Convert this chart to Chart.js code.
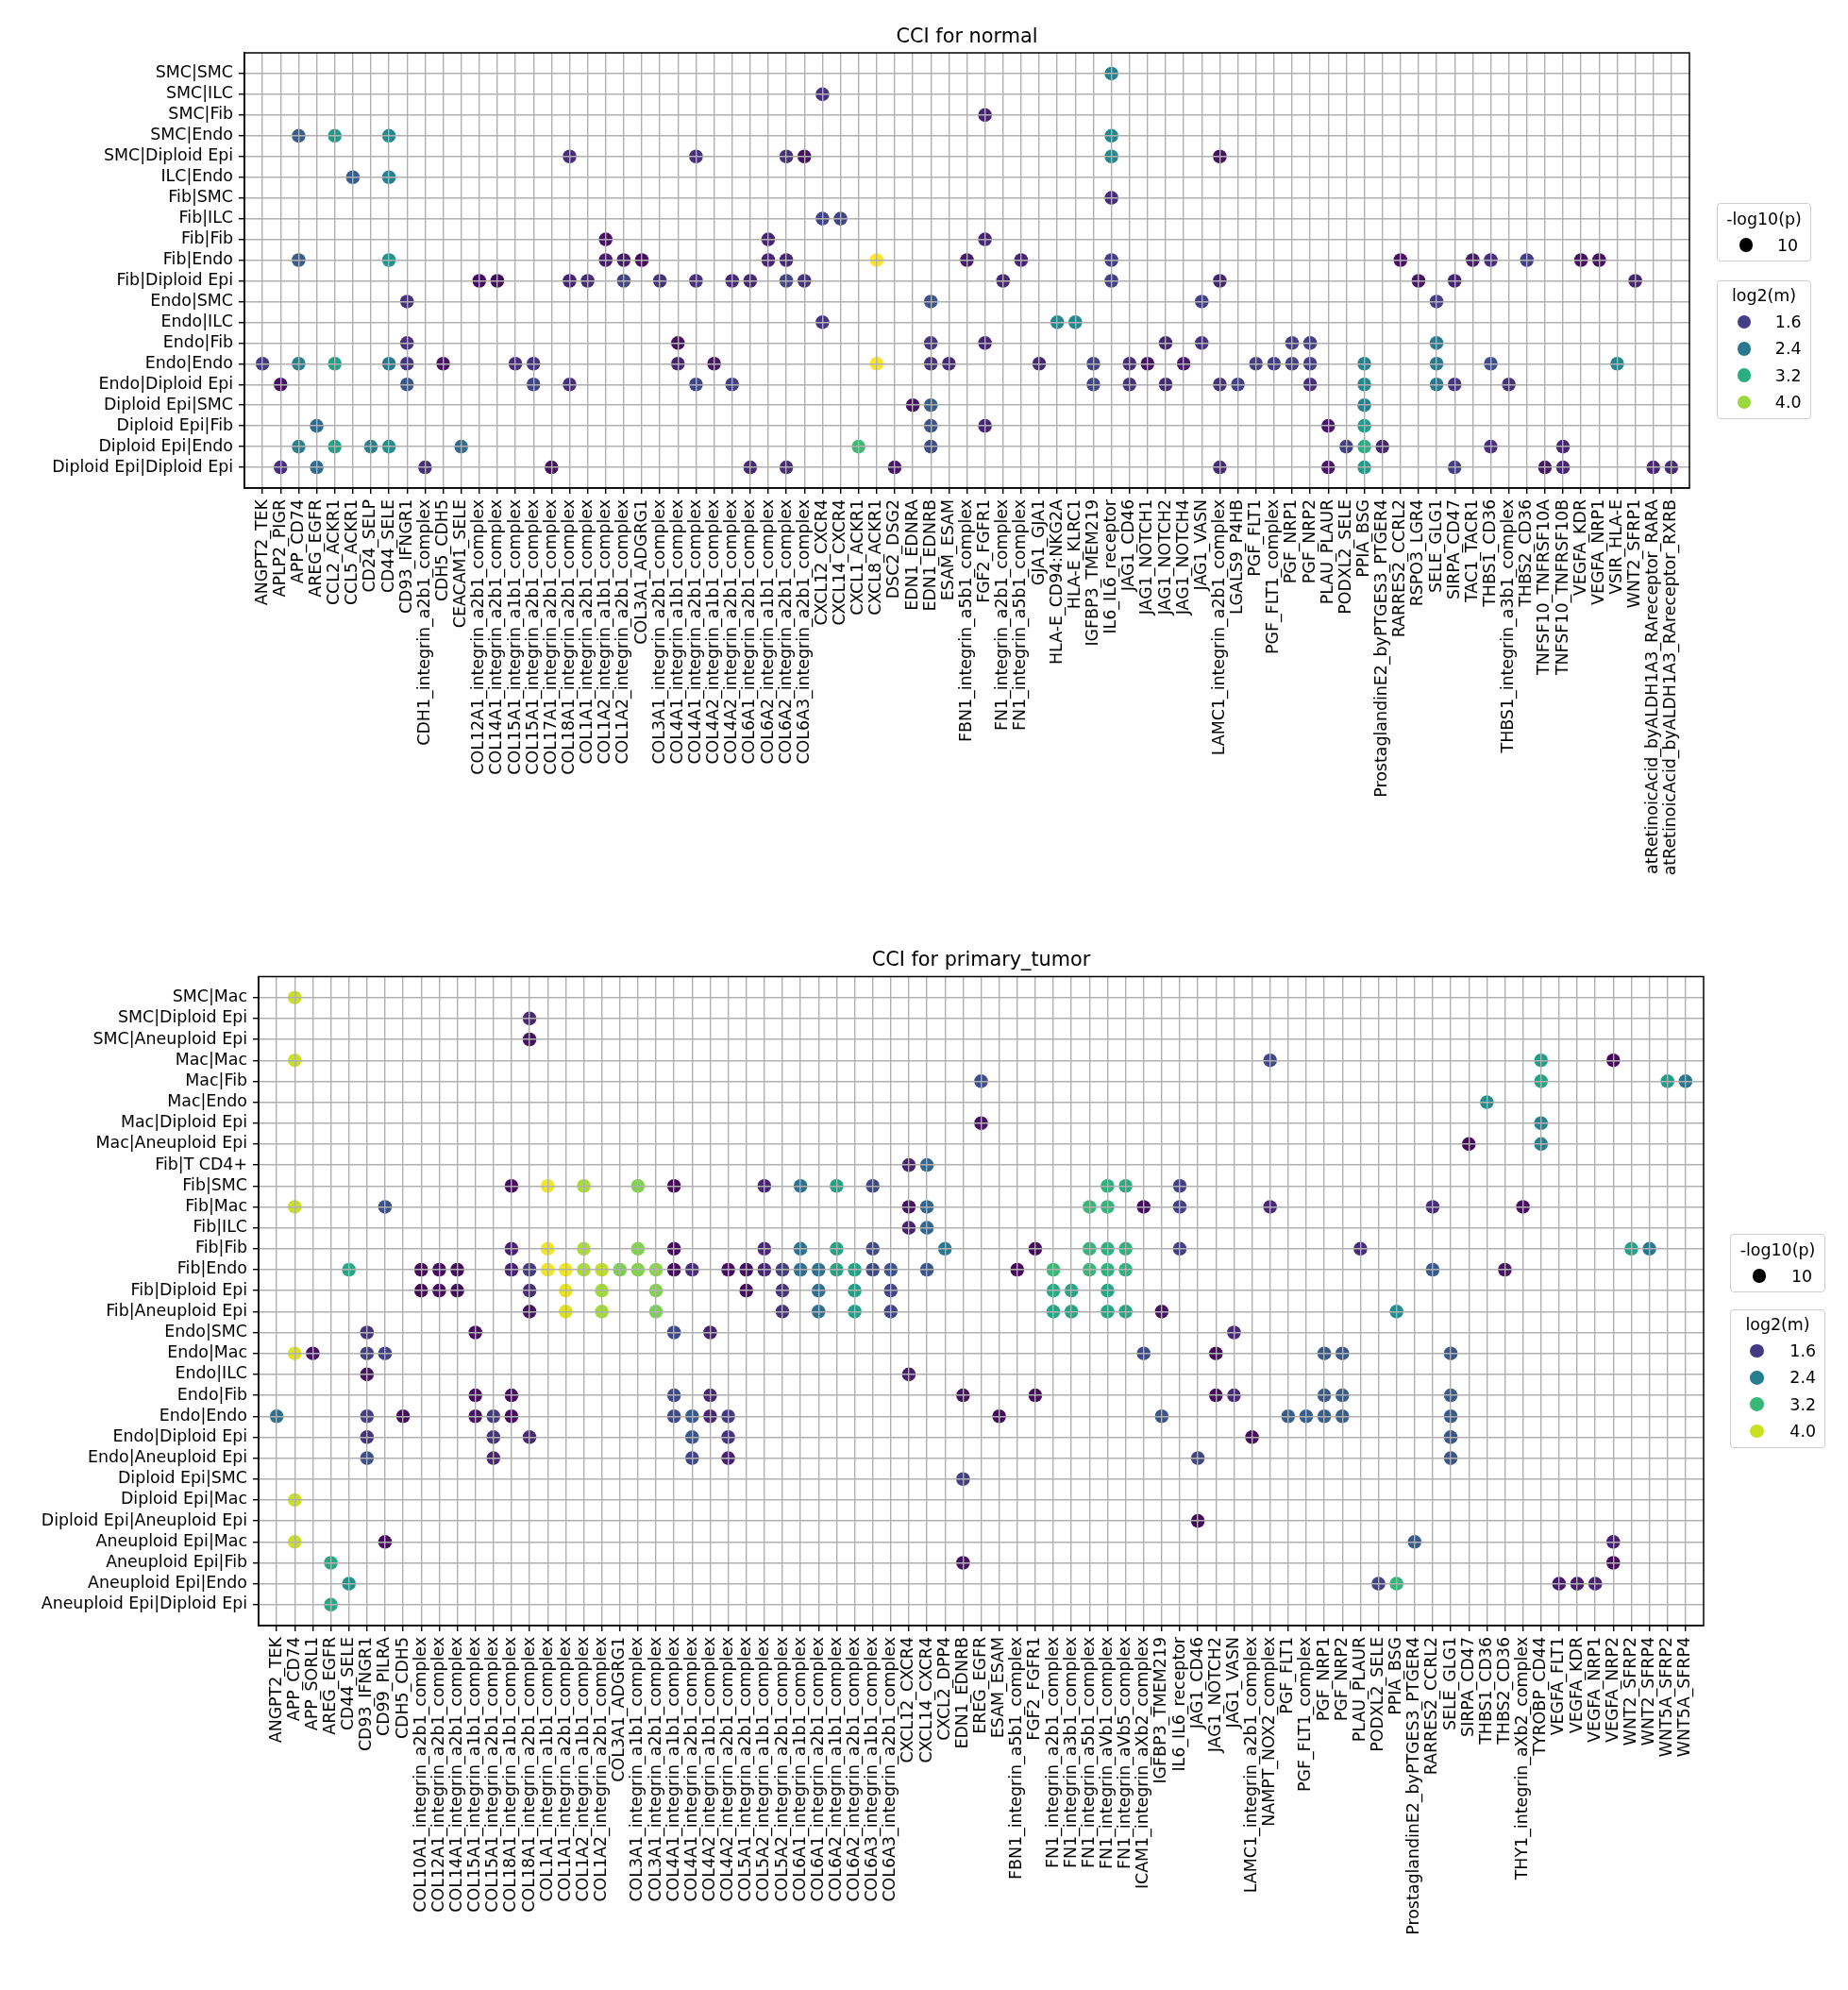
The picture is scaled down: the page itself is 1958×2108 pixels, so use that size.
<!DOCTYPE html>
<html>
<head>
<meta charset="utf-8">
<script src="https://cdn.jsdelivr.net/npm/chart.js@4.4.1/dist/chart.umd.min.js"></script>
<style>
  body { margin: 0; background: #fff; width: 1958px; height: 2108px; position: relative; overflow: hidden; font-family: "DejaVu Sans", sans-serif; }
  canvas { position: absolute; left: 0; }
  .lg { position: absolute; border: 1px solid #cccccc; border-radius: 4px; background: rgba(255,255,255,0.8); box-sizing: border-box; }
  .lt { position: absolute; font-size: 17.4px; line-height: 20px; white-space: nowrap; color: #000; }
  .dot { position: absolute; border-radius: 50%; width: 14.6px; height: 14.6px; }
</style>
</head>
<body>
<canvas id="normal" width="1958" height="990" style="top:0px"></canvas>
<canvas id="tumor" width="1958" height="1118" style="top:990px"></canvas>
<script>
// ------------- CCI for normal ------------- //
let normalRows = ["SMC|SMC", "SMC|ILC", "SMC|Fib", "SMC|Endo", "SMC|Diploid Epi", "ILC|Endo",
  "Fib|SMC", "Fib|ILC", "Fib|Fib", "Fib|Endo", "Fib|Diploid Epi", "Endo|SMC", "Endo|ILC",
  "Endo|Fib", "Endo|Endo", "Endo|Diploid Epi", "Diploid Epi|SMC", "Diploid Epi|Fib",
  "Diploid Epi|Endo", "Diploid Epi|Diploid Epi"];

let normalPairs = ["ANGPT2_TEK", "APLP2_PIGR", "APP_CD74", "AREG_EGFR", "CCL2_ACKR1", "CCL5_ACKR1",
  "CD24_SELP", "CD44_SELE", "CD93_IFNGR1", "CDH1_integrin_a2b1_complex", "CDH5_CDH5", "CEACAM1_SELE",
  "COL12A1_integrin_a2b1_complex", "COL14A1_integrin_a2b1_complex", "COL15A1_integrin_a1b1_complex",
  "COL15A1_integrin_a2b1_complex", "COL17A1_integrin_a2b1_complex", "COL18A1_integrin_a2b1_complex",
  "COL1A1_integrin_a2b1_complex", "COL1A2_integrin_a1b1_complex", "COL1A2_integrin_a2b1_complex",
  "COL3A1_ADGRG1", "COL3A1_integrin_a2b1_complex", "COL4A1_integrin_a1b1_complex",
  "COL4A1_integrin_a2b1_complex", "COL4A2_integrin_a1b1_complex", "COL4A2_integrin_a2b1_complex",
  "COL6A1_integrin_a2b1_complex", "COL6A2_integrin_a1b1_complex", "COL6A2_integrin_a2b1_complex",
  "COL6A3_integrin_a2b1_complex", "CXCL12_CXCR4", "CXCL14_CXCR4", "CXCL1_ACKR1", "CXCL8_ACKR1",
  "DSC2_DSG2", "EDN1_EDNRA", "EDN1_EDNRB", "ESAM_ESAM", "FBN1_integrin_a5b1_complex", "FGF2_FGFR1",
  "FN1_integrin_a2b1_complex", "FN1_integrin_a5b1_complex", "GJA1_GJA1", "HLA-E_CD94:NKG2A",
  "HLA-E_KLRC1", "IGFBP3_TMEM219", "IL6_IL6_receptor", "JAG1_CD46", "JAG1_NOTCH1", "JAG1_NOTCH2",
  "JAG1_NOTCH4", "JAG1_VASN", "LAMC1_integrin_a2b1_complex", "LGALS9_P4HB", "PGF_FLT1",
  "PGF_FLT1_complex", "PGF_NRP1", "PGF_NRP2", "PLAU_PLAUR", "PODXL2_SELE", "PPIA_BSG",
  "ProstaglandinE2_byPTGES3_PTGER4", "RARRES2_CCRL2", "RSPO3_LGR4", "SELE_GLG1", "SIRPA_CD47",
  "TAC1_TACR1", "THBS1_CD36", "THBS1_integrin_a3b1_complex", "THBS2_CD36", "TNFSF10_TNFRSF10A",
  "TNFSF10_TNFRSF10B", "VEGFA_KDR", "VEGFA_NRP1", "VSIR_HLA-E", "WNT2_SFRP1",
  "atRetinoicAcid_byALDH1A3_RAreceptor_RARA", "atRetinoicAcid_byALDH1A3_RAreceptor_RXRB"];

// [row, pair, log2(m)]
let normalDots = [
  [0,47,2.5],
  [1,31,1.45],
  [2,40,1.3],
  [3,2,2.0],[3,4,2.9],[3,7,2.6],[3,47,2.6],
  [4,17,1.4],[4,24,1.45],[4,29,1.45],[4,30,1.1],[4,47,2.6],[4,53,1.1],
  [5,5,2.0],[5,7,2.5],
  [6,47,1.4],
  [7,31,1.65],[7,32,1.65],
  [8,19,1.1],[8,28,1.3],[8,40,1.3],
  [9,2,2.0],[9,7,2.8],[9,19,1.2],[9,20,1.2],[9,21,1.05],[9,28,1.3],[9,29,1.35],[9,34,4.55],[9,39,1.2],
  [9,42,1.3],[9,47,1.6],[9,63,1.1],[9,67,1.2],[9,68,1.4],[9,70,1.6],[9,73,1.1],[9,74,1.1],
  [10,12,1.05],[10,13,1.05],[10,17,1.3],[10,18,1.4],[10,20,1.7],[10,22,1.45],[10,24,1.45],[10,26,1.35],
  [10,27,1.35],[10,29,1.7],[10,30,1.5],[10,41,1.35],[10,47,1.6],[10,53,1.3],[10,64,1.15],[10,66,1.3],[10,76,1.3],
  [11,8,1.45],[11,37,1.85],[11,52,1.6],[11,65,1.6],
  [12,31,1.5],[12,44,2.6],[12,45,2.6],
  [13,8,1.45],[13,23,1.1],[13,37,1.5],[13,40,1.3],[13,50,1.3],[13,52,1.45],[13,57,1.6],[13,58,1.6],[13,65,2.4],
  [14,0,1.55],[14,2,2.5],[14,4,3.0],[14,7,2.4],[14,8,1.5],[14,10,1.1],[14,14,1.4],[14,15,1.5],[14,23,1.3],
  [14,25,1.15],[14,34,4.55],[14,37,1.45],[14,38,1.35],[14,43,1.35],[14,46,1.65],[14,48,1.4],[14,49,1.1],
  [14,51,1.2],[14,55,1.6],[14,56,1.6],[14,57,1.6],[14,58,1.6],[14,61,2.5],[14,65,2.4],[14,68,1.8],[14,75,2.6],
  [15,1,1.1],[15,8,1.9],[15,15,1.7],[15,17,1.4],[15,24,1.7],[15,26,1.6],[15,46,1.7],[15,48,1.45],[15,50,1.35],
  [15,53,1.45],[15,54,1.65],[15,58,1.4],[15,61,2.6],[15,65,2.4],[15,66,1.5],[15,69,1.45],
  [16,36,1.1],[16,37,2.0],[16,61,2.5],
  [17,3,2.2],[17,37,1.85],[17,40,1.3],[17,59,1.15],[17,61,2.9],
  [18,2,2.5],[18,4,3.0],[18,6,2.5],[18,7,2.7],[18,11,2.2],[18,33,3.4],[18,37,1.75],[18,60,1.6],[18,61,3.2],
  [18,62,1.3],[18,68,1.4],[18,72,1.3],
  [19,1,1.4],[19,3,2.2],[19,9,1.4],[19,16,1.1],[19,27,1.35],[19,29,1.4],[19,35,1.15],[19,53,1.35],[19,59,1.15],
  [19,61,2.9],[19,66,1.6],[19,71,1.15],[19,72,1.3],[19,77,1.3],[19,78,1.35]
];

// ------------- CCI for primary_tumor ------------- //
let tumorRows = ["SMC|Mac", "SMC|Diploid Epi", "SMC|Aneuploid Epi", "Mac|Mac", "Mac|Fib", "Mac|Endo",
  "Mac|Diploid Epi", "Mac|Aneuploid Epi", "Fib|T CD4+", "Fib|SMC", "Fib|Mac", "Fib|ILC", "Fib|Fib",
  "Fib|Endo", "Fib|Diploid Epi", "Fib|Aneuploid Epi", "Endo|SMC", "Endo|Mac", "Endo|ILC", "Endo|Fib",
  "Endo|Endo", "Endo|Diploid Epi", "Endo|Aneuploid Epi", "Diploid Epi|SMC", "Diploid Epi|Mac",
  "Diploid Epi|Aneuploid Epi", "Aneuploid Epi|Mac", "Aneuploid Epi|Fib", "Aneuploid Epi|Endo",
  "Aneuploid Epi|Diploid Epi"];

let tumorPairs = ["ANGPT2_TEK", "APP_CD74", "APP_SORL1", "AREG_EGFR", "CD44_SELE", "CD93_IFNGR1",
  "CD99_PILRA", "CDH5_CDH5", "COL10A1_integrin_a2b1_complex", "COL12A1_integrin_a2b1_complex",
  "COL14A1_integrin_a2b1_complex", "COL15A1_integrin_a1b1_complex", "COL15A1_integrin_a2b1_complex",
  "COL18A1_integrin_a1b1_complex", "COL18A1_integrin_a2b1_complex", "COL1A1_integrin_a1b1_complex",
  "COL1A1_integrin_a2b1_complex", "COL1A2_integrin_a1b1_complex", "COL1A2_integrin_a2b1_complex",
  "COL3A1_ADGRG1", "COL3A1_integrin_a1b1_complex", "COL3A1_integrin_a2b1_complex",
  "COL4A1_integrin_a1b1_complex", "COL4A1_integrin_a2b1_complex", "COL4A2_integrin_a1b1_complex",
  "COL4A2_integrin_a2b1_complex", "COL5A1_integrin_a2b1_complex", "COL5A2_integrin_a1b1_complex",
  "COL5A2_integrin_a2b1_complex", "COL6A1_integrin_a1b1_complex", "COL6A1_integrin_a2b1_complex",
  "COL6A2_integrin_a1b1_complex", "COL6A2_integrin_a2b1_complex", "COL6A3_integrin_a1b1_complex",
  "COL6A3_integrin_a2b1_complex", "CXCL12_CXCR4", "CXCL14_CXCR4", "CXCL2_DPP4", "EDN1_EDNRB",
  "EREG_EGFR", "ESAM_ESAM", "FBN1_integrin_a5b1_complex", "FGF2_FGFR1", "FN1_integrin_a2b1_complex",
  "FN1_integrin_a3b1_complex", "FN1_integrin_a5b1_complex", "FN1_integrin_aVb1_complex",
  "FN1_integrin_aVb5_complex", "ICAM1_integrin_aXb2_complex", "IGFBP3_TMEM219", "IL6_IL6_receptor",
  "JAG1_CD46", "JAG1_NOTCH2", "JAG1_VASN", "LAMC1_integrin_a2b1_complex", "NAMPT_NOX2_complex",
  "PGF_FLT1", "PGF_FLT1_complex", "PGF_NRP1", "PGF_NRP2", "PLAU_PLAUR", "PODXL2_SELE", "PPIA_BSG",
  "ProstaglandinE2_byPTGES3_PTGER4", "RARRES2_CCRL2", "SELE_GLG1", "SIRPA_CD47", "THBS1_CD36",
  "THBS2_CD36", "THY1_integrin_aXb2_complex", "TYROBP_CD44", "VEGFA_FLT1", "VEGFA_KDR", "VEGFA_NRP1",
  "VEGFA_NRP2", "WNT2_SFRP2", "WNT2_SFRP4", "WNT5A_SFRP2", "WNT5A_SFRP4"];

// [row, pair, log2(m)]
let tumorDots = [
  [0,1,4.0],
  [1,14,1.4],
  [2,14,1.2],
  [3,1,4.0],[3,55,1.75],[3,70,2.85],[3,74,1.12],
  [4,39,1.8],[4,70,2.9],[4,77,2.85],[4,78,2.3],
  [5,67,2.6],
  [6,39,1.2],[6,70,2.45],
  [7,66,1.12],[7,70,2.45],
  [8,35,1.35],[8,36,2.1],
  [9,13,1.15],[9,15,4.2],[9,17,3.85],[9,20,3.65],[9,22,1.12],[9,27,1.38],[9,29,2.25],[9,31,2.9],[9,33,1.75],
  [9,46,3.1],[9,47,3.05],[9,50,1.65],
  [10,1,4.0],[10,6,1.85],[10,35,1.2],[10,36,2.1],[10,45,3.2],[10,46,3.15],[10,48,1.15],[10,50,1.65],
  [10,55,1.4],[10,64,1.45],[10,69,1.15],
  [11,35,1.35],[11,36,2.1],
  [12,13,1.35],[12,15,4.2],[12,17,3.85],[12,20,3.65],[12,22,1.15],[12,27,1.4],[12,29,2.25],[12,31,2.9],
  [12,33,1.75],[12,37,2.35],[12,42,1.15],[12,45,3.15],[12,46,3.1],[12,47,3.1],[12,50,1.65],[12,60,1.45],
  [12,75,2.9],[12,76,2.35],
  [13,4,2.95],[13,8,1.12],[13,9,1.15],[13,10,1.15],[13,13,1.35],[13,14,1.6],[13,15,4.2],[13,16,4.2],
  [13,17,3.85],[13,18,3.95],[13,19,3.6],[13,20,3.65],[13,21,3.7],[13,22,1.15],[13,23,1.45],[13,25,1.15],
  [13,26,1.15],[13,27,1.38],[13,28,1.6],[13,29,2.2],[13,30,2.25],[13,31,2.9],[13,32,2.9],[13,33,1.75],
  [13,34,1.85],[13,36,1.9],[13,41,1.12],[13,43,3.2],[13,45,3.2],[13,46,3.1],[13,47,3.1],[13,64,1.95],[13,68,1.2],
  [14,8,1.12],[14,9,1.15],[14,10,1.15],[14,14,1.45],[14,16,4.15],[14,18,3.8],[14,21,3.65],[14,26,1.15],
  [14,28,1.5],[14,30,2.2],[14,32,2.85],[14,34,1.7],[14,43,3.0],[14,44,2.95],[14,46,2.95],
  [15,14,1.2],[15,16,4.1],[15,18,3.8],[15,21,3.6],[15,28,1.5],[15,30,2.2],[15,32,2.85],[15,34,1.7],
  [15,43,2.95],[15,44,2.95],[15,46,2.95],[15,47,2.95],[15,49,1.2],[15,62,2.6],
  [16,5,1.5],[16,11,1.15],[16,22,1.75],[16,24,1.35],[16,53,1.4],
  [17,1,4.1],[17,2,1.2],[17,5,1.65],[17,6,1.65],[17,48,1.75],[17,52,1.12],[17,58,1.95],[17,59,1.95],[17,65,1.9],
  [18,5,1.2],[18,35,1.3],
  [19,11,1.15],[19,13,1.15],[19,22,1.75],[19,24,1.38],[19,38,1.2],[19,42,1.15],[19,52,1.15],[19,53,1.4],
  [19,58,1.95],[19,59,2.0],[19,65,1.95],
  [20,0,2.25],[20,5,1.65],[20,7,1.15],[20,11,1.2],[20,12,1.6],[20,13,1.15],[20,22,1.75],[20,23,1.95],
  [20,24,1.38],[20,25,1.6],[20,40,1.15],[20,49,1.9],[20,56,2.0],[20,57,2.0],[20,58,2.0],[20,59,2.0],[20,65,1.95],
  [21,5,1.5],[21,12,1.5],[21,14,1.4],[21,23,1.9],[21,25,1.5],[21,54,1.15],[21,65,1.9],
  [22,5,1.85],[22,12,1.38],[22,23,1.7],[22,25,1.35],[22,51,1.7],[22,65,1.9],
  [23,38,1.65],
  [24,1,4.0],
  [25,51,1.12],
  [26,1,4.0],[26,6,1.15],[26,63,1.95],[26,74,1.35],
  [27,3,2.98],[27,38,1.2],[27,74,1.15],
  [28,4,2.66],[28,61,1.7],[28,62,3.15],[28,71,1.3],[28,72,1.3],[28,73,1.35],
  [29,3,2.98]
];

let sizeLevels = [10];
let colorLevels = [1.6, 2.4, 3.2, 4.0];

// ------------- colour map ------------- //
let VIRIDIS = ["#440154", "#48186a", "#472d7b", "#424086", "#3b528b", "#33638d", "#2c728e", "#26828e",
  "#21918c", "#1fa088", "#28ae80", "#3fbc73", "#5ec962", "#84d44b", "#addc30", "#d8e219", "#fde725"];

function hexRgb(h) {
  return [parseInt(h.slice(1, 3), 16), parseInt(h.slice(3, 5), 16), parseInt(h.slice(5, 7), 16)];
}

function viridis(t) {
  t = Math.min(1, Math.max(0, t));
  let p = t * 16;
  let i = Math.min(15, Math.floor(p));
  let f = p - i;
  let a = hexRgb(VIRIDIS[i]), b = hexRgb(VIRIDIS[i + 1]);
  let c = a.map((v, k) => Math.round(v + (b[k] - v) * f));
  return `rgb(${c[0]},${c[1]},${c[2]})`;
}

// ------------- chart ------------- //
let tickFont = { family: "DejaVu Sans", size: 17.4 };

// frame round the axes + title above them
let frameTitle = {
  id: "frameTitle",
  afterDraw(chart, args, opts) {
    let ctx = chart.ctx, a = chart.chartArea;
    ctx.save();
    ctx.strokeStyle = "#000";
    ctx.lineWidth = 1.5;
    ctx.strokeRect(a.left, a.top, a.right - a.left, a.bottom - a.top);
    ctx.fillStyle = "#000";
    ctx.font = '20.8px "DejaVu Sans"';
    ctx.textAlign = "center";
    ctx.textBaseline = "alphabetic";
    ctx.fillText(opts.text, (a.left + a.right) / 2, a.top - 11.5);
    ctx.restore();
  }
};

function drawChart(id, title, rows, pairs, dots, area, norm) {
  let canvas = document.getElementById(id);
  let H = canvas.height;
  // grid goes over the dots, like the original
  let gridOpts = { color: "#b0b0b0", lineWidth: 1.4, tickLength: 6, tickColor: "#000", tickWidth: 1.4, z: 1 };

  new Chart(canvas, {
    type: "scatter",
    data: {
      datasets: [{
        data: dots.map(d => ({ x: d[1], y: d[0] })),
        pointBackgroundColor: dots.map(d => viridis((d[2] - norm[0]) / (norm[1] - norm[0]))),
        pointBorderWidth: 0,
        pointRadius: 7.3,
        pointHoverRadius: 7.3
      }]
    },
    options: {
      animation: false,
      responsive: false,
      devicePixelRatio: 1,
      events: [],
      layout: { padding: { left: 0, top: area.top, right: 1958 - area.right, bottom: 0 } },
      plugins: {
        legend: { display: false },
        tooltip: { enabled: false },
        title: { display: false },
        frameTitle: { text: title }
      },
      scales: {
        x: {
          type: "linear", min: -1, max: pairs.length,
          afterBuildTicks: s => { s.ticks = pairs.map((p, i) => ({ value: i })); },
          afterFit: s => { s.height = H - area.bottom; s.paddingLeft = 0; s.paddingRight = 0; },
          ticks: { autoSkip: false, minRotation: 90, maxRotation: 90, padding: 6, color: "#000",
                   font: tickFont, callback: v => pairs[v] },
          grid: gridOpts,
          border: { color: "#000", width: 1.5, z: 2 }
        },
        y: {
          type: "linear", min: -1, max: rows.length, reverse: true,
          afterBuildTicks: s => { s.ticks = rows.map((r, i) => ({ value: i })); },
          afterFit: s => { s.width = area.left; s.paddingTop = 0; s.paddingBottom = 0; },
          ticks: { autoSkip: false, padding: 6, color: "#000", font: tickFont, callback: v => rows[v] },
          grid: gridOpts,
          border: { color: "#000", width: 1.5, z: 2 }
        }
      }
    },
    plugins: [frameTitle]
  });
}

// ------------- legends ------------- //
function addEl(cls, css, text) {
  let el = document.createElement("div");
  el.className = cls;
  Object.assign(el.style, css);
  if (text) el.textContent = text;
  document.body.appendChild(el);
}

function addText(text, x, y, align) {
  let css = { top: (y - 10) + "px" };
  if (align == "center") Object.assign(css, { left: (x - 100) + "px", width: "200px", textAlign: "center" });
  else if (align == "right") Object.assign(css, { left: (x - 200) + "px", width: "200px", textAlign: "right" });
  else css.left = x + "px";
  addEl("lt", css, text);
}

function addDot(x, y, color) {
  addEl("dot", { left: (x - 7.3) + "px", top: (y - 7.3) + "px", background: color });
}

function drawLegend(L, norm) {
  addEl("lg", { left: L.x + "px", top: L.y1 + "px", width: L.w + "px", height: "62px" });
  addText("-log10(p)", L.x + L.w / 2, L.y1 + 17, "center");
  sizeLevels.forEach(s => {
    addDot(L.sizeDotX, L.y1 + 44.5, "#000");
    addText(String(s), L.sizeTextX, L.y1 + 44.5, "left");
  });
  addEl("lg", { left: L.x + "px", top: L.y2 + "px", width: L.w + "px", height: "147px" });
  addText("log2(m)", L.x + L.w / 2, L.y2 + 16, "center");
  colorLevels.forEach((v, i) => {
    let y = L.y2 + 44 + i * 28.3;
    addDot(L.colorDotX, y, viridis((v - norm[0]) / (norm[1] - norm[0])));
    addText(v.toFixed(1), L.colorTextR, y, "right");
  });
}

let normalNorm = [0.95, 4.55];
let tumorNorm = [1.06, 4.26];

drawChart("normal", "CCI for normal", normalRows, normalPairs, normalDots,
  { left: 259, right: 1790, top: 56, bottom: 517 }, normalNorm);
drawChart("tumor", "CCI for primary_tumor", tumorRows, tumorPairs, tumorDots,
  { left: 274, right: 1805, top: 44.5, bottom: 732 }, tumorNorm);

drawLegend({ x: 1819, w: 100, y1: 215, y2: 297, sizeDotX: 1850, sizeTextX: 1883, colorDotX: 1848, colorTextR: 1908.5 }, normalNorm);
drawLegend({ x: 1833, w: 101, y1: 1307, y2: 1387, sizeDotX: 1864, sizeTextX: 1898, colorDotX: 1861.5, colorTextR: 1924 }, tumorNorm);
</script>
</body>
</html>
